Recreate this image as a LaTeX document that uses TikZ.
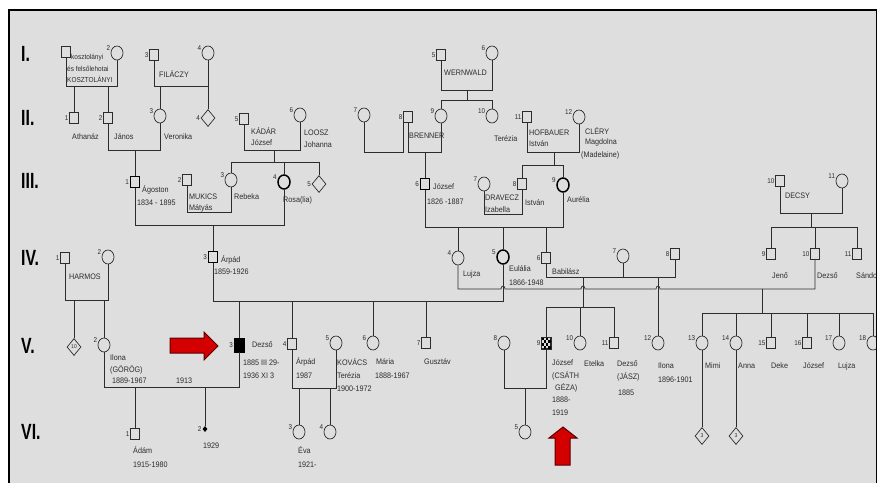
\documentclass[tikz,border=0pt]{standalone}
\usepackage{fontspec}
\setmainfont{Liberation Sans}[FakeStretch=0.9]
\newfontfamily\genfont{Liberation Sans}[FakeStretch=0.72]
\usetikzlibrary{shapes.geometric}
\definecolor{bg}{HTML}{DEDEDE}
\definecolor{ink}{HTML}{2C2C2C}
\definecolor{arrowred}{HTML}{D40000}
\definecolor{arrowdark}{HTML}{5A0000}
\tikzset{
  ln/.style={line width=0.7pt, draw=ink},
  sq/.style={rectangle, draw=ink, line width=0.7pt, minimum width=9pt, minimum height=11pt, inner sep=0pt},
  sqb/.style={sq, line width=1.5pt, draw=black},
  sqf/.style={sq, fill=black, draw=black, minimum width=10pt, minimum height=14pt},
  ci/.style={ellipse, draw=ink, line width=0.7pt, minimum width=12pt, minimum height=14pt, inner sep=0pt},
  cib/.style={ci, line width=1.5pt, draw=black},
  di/.style={diamond, draw=ink, line width=0.7pt, minimum width=14pt, minimum height=17pt, inner sep=0pt, font=\fontsize{5.5}{6}\selectfont, text=ink},
  dif/.style={diamond, fill=black, minimum width=5pt, minimum height=6pt, inner sep=0pt},
  num/.style={font=\fontsize{7}{7}\selectfont, text=ink, inner sep=0.6pt},
  lsq/.style={label={[num]left:#1}},
  lci/.style={label={[num]165:#1}},
  txt/.style={font=\fontsize{8}{8}\selectfont, text=ink, inner sep=0pt, anchor=west},
  txts/.style={txt, font=\fontsize{7.2}{8}\selectfont},
  gen/.style={font=\genfont\bfseries\fontsize{22}{22}\selectfont, text=black, inner sep=0pt, anchor=west},
  redarrow/.style={fill=arrowred, draw=arrowdark, line width=1pt, line join=miter},
}
\begin{document}
\begin{tikzpicture}[x=1pt,y=-1pt]
\useasboundingbox (0,0) rectangle (877,483);
\fill[white] (0,0) rectangle (877,483);
\fill[bg] (9,10) rectangle (877,483);
\begin{scope}
\clip (9,10) rectangle (876,483);
% generation labels
\node[gen] (gI) at (21,54) {I.};
\node[gen] (gII) at (21,118) {II.};
\node[gen] (gIII) at (21,181) {III.};
\node[gen] (gIV) at (21,258) {IV.};
\node[gen] (gV) at (21,346) {V.};
\node[gen] (gVI) at (21,432) {VI.};
% ---------- Generation I
\node[sq] (i1) at (66,52) {};
\node[ci,lci=2] (i2) at (117,53) {};
\node[sq,lsq=3] (i3) at (154,55) {};
\node[ci,lci=4] (i4) at (208,53) {};
\node[sq,lsq=5] (i5) at (441,55) {};
\node[ci,lci=6] (i6) at (492,53) {};
% ---------- Generation II
\node[sq,lsq=1] (ii1) at (74,118) {};
\node[sq,lsq=2] (ii2) at (108,118) {};
\node[ci,lci=3] (ii3) at (160,116) {};
\node[di,label={[num]left:4}] (ii4) at (208,118) {};
\node[sq,lsq=5] (ii5) at (244,119) {};
\node[ci,lci=6] (ii6) at (300,115) {};
\node[ci,lci=7] (ii7) at (364,115) {};
\node[sq,lsq=8] (ii8) at (408,117) {};
\node[ci,lci=9] (ii9) at (441,116) {};
\node[ci,lci=10] (ii10) at (492,116) {};
\node[sq,lsq=11] (ii11) at (527,117) {};
\node[ci,lci=12] (ii12) at (579,117) {};
% ---------- Generation III
\node[sqb,lsq=1] (iii1) at (135,182) {};
\node[sq,lsq=2] (iii2) at (187,180) {};
\node[ci,lci=3] (iii3) at (231,180) {};
\node[cib,lci=4] (iii4) at (284,182) {};
\node[di,label={[num]left:5}] (iii5) at (319,184) {};
\node[sqb,lsq=6] (iii6) at (425,184) {};
\node[ci,lci=7] (iii7) at (484,184) {};
\node[sq,lsq=8] (iii8) at (522,184) {};
\node[cib,lci=9] (iii9) at (563,185) {};
\node[sq,lsq=10] (iii10) at (780,181) {};
\node[ci,lci=11] (iii11) at (842,181) {};
% ---------- Generation IV
\node[sq,lsq=1] (iv1) at (65,258) {};
\node[ci,lci=2] (iv2) at (108,257) {};
\node[sqb,lsq=3] (iv3) at (213,257) {};
\node[ci,lci=4] (iv4) at (458,258) {};
\node[cib,lci=5] (iv5) at (503,257) {};
\node[sq,lsq=6] (iv6) at (546,258) {};
\node[ci,lci=7] (iv7) at (623,256) {};
\node[sq,lsq=8] (iv8) at (675,254) {};
\node[sq,lsq=9] (iv9) at (771,254) {};
\node[sq,lsq=10] (iv10) at (815,254) {};
\node[sq,lsq=11] (iv11) at (857,254) {};
% ---------- Generation V
\node[di] (v1) at (74,347) {10};
\node[ci,lci=2] (v2) at (104,345) {};
\node[sqf,lsq=3] (v3) at (239,345) {};
\node[sq,lsq=4] (v4) at (292,344) {};
\node[ci,lci=5] (v5) at (336,343) {};
\node[ci,lci=6] (v6) at (373,343) {};
\node[sq,lsq=7] (v7) at (426,343) {};
\node[ci,lci=8] (v8) at (504,343) {};
\node[sq,lsq=9] (v9) at (546,343) {};
\foreach \i in {0,...,3}{\foreach \j in {0,...,3}{\pgfmathtruncatemacro\k{mod(\i+\j,2)}\ifnum\k=0 \fill[black] ({541.5+2.25*\i},{337.5+2.75*\j}) rectangle ++(2.25,2.75);\fi}}
\draw[line width=0.7pt, draw=ink] (v9.south west) rectangle (v9.north east);
\node[ci,lci=10] (v10) at (580,343) {};
\node[sq,lsq=11] (v11) at (614,343) {};
\node[ci,lci=12] (v12) at (658,343) {};
\node[ci,lci=13] (v13) at (702,343) {};
\node[ci,lci=14] (v14) at (736,343) {};
\node[sq,lsq=15] (v15) at (771,343) {};
\node[sq,lsq=16] (v16) at (807,343) {};
\node[ci,lci=17] (v17) at (839,343) {};
\node[ci,lci=18] (v18) at (873,343) {};
% ---------- Generation VI
\node[sq,lsq=1] (vi1) at (135,434) {};
\node[dif,label={[num]left:2}] (vi2) at (205,429) {};
\node[ci,lci=3] (vi3) at (299,432) {};
\node[ci,lci=4] (vi4) at (330,432) {};
\node[ci,lci=5] (vi5) at (525,432) {};
\node[di] (vi6) at (702,436) {3};
\node[di] (vi7) at (736,436) {3};
% ---------- texts
\node[txts] (t1) at (71,58) {kosztolányi};
\node[txts] (t2) at (67,69) {és felsőlehotai};
\node[txts] (t3) at (67,79) {KOSZTOLÁNYI};
\node[txt] (t4) at (159,74) {FILÁCZY};
\node[txt] (t5) at (444,73) {WERNWALD};
\node[txt] (t6) at (72,137) {Athanáz};
\node[txt] (t7) at (114,137) {János};
\node[txt] (t8) at (164,137) {Veronika};
\node[txt] (t9) at (251,131) {KÁDÁR};
\node[txt] (t10) at (251,143) {József};
\node[txt] (t11) at (304,133) {LOOSZ};
\node[txt] (t12) at (304,145) {Johanna};
\node[txt] (t13) at (409,136) {BRENNER};
\node[txt] (t14) at (494,139) {Terézia};
\node[txt] (t15) at (529,133) {HOFBAUER};
\node[txt] (t16) at (529,144) {István};
\node[txt] (t17) at (585,131) {CLÉRY};
\node[txt] (t18) at (585,142) {Magdolna};
\node[txt] (t19) at (581,155) {(Madelaine)};
\node[txt] (t20) at (142,190) {Ágoston};
\node[txt] (t21) at (137,203) {1834 - 1895};
\node[txt] (t22) at (189,197) {MUKICS};
\node[txt] (t23) at (189,208) {Mátyás};
\node[txt] (t24) at (234,197) {Rebeka};
\node[txt] (t25) at (283,200) {Rosa(lia)};
\node[txt] (t26) at (433,187) {József};
\node[txt] (t27) at (427,202) {1826 -1887};
\node[txt] (t28) at (485,198) {DRAVECZ};
\node[txt] (t29) at (485,210) {Izabella};
\node[txt] (t30) at (525,203) {István};
\node[txt] (t31) at (567,200) {Aurélia};
\node[txt] (t32) at (785,196) {DECSY};
\node[txt] (t33) at (69,277) {HARMOS};
\node[txt] (t34) at (221,260) {Árpád};
\node[txt] (t35) at (214,272) {1859-1926};
\node[txt] (t36) at (463,274) {Lujza};
\node[txt] (t37) at (509,269) {Eulália};
\node[txt] (t38) at (509,283) {1866-1948};
\node[txt] (t39) at (552,272) {Babilász};
\node[txt] (t40) at (772,276) {Jenő};
\node[txt] (t41) at (817,276) {Dezső};
\node[txt] (t42) at (856,276) {Sándor};
\node[txt] (t43) at (110,358) {Ilona};
\node[txt] (t44) at (110,370) {(GÖRÖG)};
\node[txt] (t45) at (112,381) {1889-1967};
\node[txt] (t46) at (176,381) {1913};
\node[txt] (t47) at (252,345) {Dezső};
\node[txt] (t48) at (243,363) {1885 III 29-};
\node[txt] (t49) at (243,376) {1936 XI 3};
\node[txt] (t50) at (296,362) {Árpád};
\node[txt] (t51) at (296,376) {1987};
\node[txt] (t52) at (337,362) {KOVÁCS};
\node[txt] (t53) at (337,376) {Terézia};
\node[txt] (t54) at (337,389) {1900-1972};
\node[txt] (t55) at (376,362) {Mária};
\node[txt] (t56) at (375,376) {1888-1967};
\node[txt] (t57) at (424,362) {Gusztáv};
\node[txt] (t58) at (552,363) {József};
\node[txt] (t59) at (552,376) {(CSÁTH};
\node[txt] (t60) at (555,388) {GÉZA)};
\node[txt] (t61) at (552,400) {1888-};
\node[txt] (t62) at (552,413) {1919};
\node[txt] (t63) at (584,364) {Etelka};
\node[txt] (t64) at (617,364) {Dezső};
\node[txt] (t65) at (617,377) {(JÁSZ)};
\node[txt] (t66) at (618,393) {1885};
\node[txt] (t67) at (658,366) {Ilona};
\node[txt] (t68) at (658,380) {1896-1901};
\node[txt] (t69) at (705,366) {Mimi};
\node[txt] (t70) at (738,366) {Anna};
\node[txt] (t71) at (771,366) {Deke};
\node[txt] (t72) at (803,366) {József};
\node[txt] (t73) at (838,366) {Lujza};
\node[txt] (t74) at (133,450) {Ádám};
\node[txt] (t75) at (133,465) {1915-1980};
\node[txt] (t76) at (203,446) {1929};
\node[txt] (t77) at (298,450) {Éva};
\node[txt] (t78) at (298,465) {1921-};
% ---------- connectors: generation I
\draw[ln] (i1.south) -- (i1.south |- 0,86) -- (i2.south |- 0,86) -- (i2.south);
\draw[ln] (ii1.north |- 0,86) -- (ii1.north);
\draw[ln] (ii2.north |- 0,86) -- (ii2.north);
\draw[ln] (i3.south) -- (i3.south |- 0,86) -- (i4.south |- 0,86) -- (i4.south);
\draw[ln] (ii3.north |- 0,86) -- (ii3.north);
\draw[ln] (ii4.north |- 0,86) -- (ii4.north);
\draw[ln] (i5.south) -- (i5.south |- 0,90) -- (i6.south |- 0,90) -- (i6.south);
\coordinate (c56) at (467,90);
\draw[ln] (c56) -- (c56 |- 0,100);
\draw[ln] (ii9.north) -- (ii9.north |- 0,100) -- (ii10.north |- 0,100) -- (ii10.north);
% generation II
\draw[ln] (ii2.south) -- (ii2.south |- 0,150) -- (ii3.south |- 0,150) -- (ii3.south);
\draw[ln] (iii1.north |- 0,150) -- (iii1.north);
\draw[ln] (ii5.south) -- (ii5.south |- 0,150) -- (ii6.south |- 0,150) -- (ii6.south);
\coordinate (c256) at (274,150);
\draw[ln] (c256) -- (c256 |- 0,162);
\draw[ln] (iii3.north) -- (iii3.north |- 0,162) -- (iii5.north |- 0,162) -- (iii5.north);
\draw[ln] (iii4.north |- 0,162) -- (iii4.north);
\draw[ln] (ii7.south) -- (ii7.south |- 0,152) -- (ii8.south west |- 0,152) -- (ii8.south west);
\draw[ln] (ii8.south) -- (ii8.south |- 0,152) -- (ii9.south |- 0,152) -- (ii9.south);
\draw[ln] (iii6.north |- 0,152) -- (iii6.north);
\draw[ln] (ii11.south) -- (ii11.south |- 0,152) -- (ii12.south |- 0,152) -- (ii12.south);
\coordinate (c1112) at (554,152);
\draw[ln] (c1112) -- (c1112 |- 0,165);
\draw[ln] (iii8.north) -- (iii8.north |- 0,165) -- (iii9.north |- 0,165) -- (iii9.north);
% generation III
\draw[ln] (iii1.south) -- (iii1.south |- 0,225) -- (iii4.south |- 0,225) -- (iii4.south);
\draw[ln] (iv3.north |- 0,225) -- (iv3.north);
\draw[ln] (iii2.south) -- (iii2.south |- 0,212) -- (iii3.south |- 0,212) -- (iii3.south);
\draw[ln] (iii6.south) -- (iii6.south |- 0,227) -- (iii9.south |- 0,227) -- (iii9.south);
\foreach \c in {iv4,iv5,iv6} \draw[ln] (\c.north |- 0,227) -- (\c.north);
\draw[ln] (iii7.south) -- (iii7.south |- 0,214) -- (iii8.south |- 0,214) -- (iii8.south);
\draw[ln] (iii10.south) -- (iii10.south |- 0,213) -- (iii11.south |- 0,213) -- (iii11.south);
\coordinate (c1011) at (811,213);
\draw[ln] (c1011) -- (c1011 |- 0,227);
\draw[ln] (iv9.north) -- (iv9.north |- 0,227) -- (iv11.north |- 0,227) -- (iv11.north);
\draw[ln] (iv10.north |- 0,227) -- (iv10.north);
% generation IV
\draw[ln] (iv1.south) -- (iv1.south |- 0,300) -- (iv2.south |- 0,300) -- (iv2.south);
\draw[ln] (v1.north |- 0,300) -- (v1.north);
\draw[ln] (v2.north |- 0,300) -- (v2.north);
\draw[ln] (iv3.south) -- (iv3.south |- 0,301) -- (iv5.south |- 0,301) -- (iv5.south);
\foreach \c in {v3,v4,v6,v7} \draw[ln] (\c.north |- 0,301) -- (\c.north);
\draw[ln] (iv6.south) -- (iv6.south |- 0,277) -- (iv8.south |- 0,277) -- (iv8.south);
\draw[ln] (iv7.south) -- (iv7.south |- 0,277);
\coordinate (c67) at (583,277);
\draw[ln] (c67) -- (c67 |- 0,307);
\draw[ln] (v9.north) -- (v9.north |- 0,307) -- (v11.north |- 0,307) -- (v11.north);
\draw[ln] (v10.north |- 0,307) -- (v10.north);
\draw[ln] (v12.north |- 0,277) -- (v12.north);
\draw[ln] (iv4.south) -- (iv4.south |- 0,289) -- (501,289) .. controls (501,285) and (505,285) .. (505,289) -- (581,289) .. controls (581,285) and (585,285) .. (585,289) -- (656,289) .. controls (656,285) and (660,285) .. (660,289) -- (iv10.south |- 0,289) -- (iv10.south);
\coordinate (c410) at (762,289);
\draw[ln] (c410) -- (c410 |- 0,313);
\draw[ln] (v13.north |- 0,313) -- (v18.north |- 0,313);
\foreach \c in {v13,v14,v15,v16,v17,v18} \draw[ln] (\c.north |- 0,313) -- (\c.north);
% generation V
\draw[ln] (v2.south) -- (v2.south |- 0,387) -- (v3.south |- 0,387) -- (v3.south);
\draw[ln] (vi1.north |- 0,387) -- (vi1.north);
\draw[ln] (vi2.north |- 0,387) -- (vi2.north);
\draw[ln] (v4.south) -- (v4.south |- 0,388) -- (v5.south |- 0,388) -- (v5.south);
\draw[ln] (vi3.north |- 0,388) -- (vi3.north);
\draw[ln] (vi4.north |- 0,388) -- (vi4.north);
\draw[ln] (v8.south) -- (v8.south |- 0,388) -- (v9.south |- 0,388) -- (v9.south);
\draw[ln] (vi5.north |- 0,388) -- (vi5.north);
\draw[ln] (v13.south) -- (vi6.north);
\draw[ln] (v14.south) -- (vi7.north);
% red arrows
\draw[redarrow] (170,338) -- (204,338) -- (204,332) -- (218,346) -- (204,360) -- (204,353) -- (170,353) -- cycle;
\draw[redarrow] (555,465) -- (555,438) -- (549,438) -- (563,427) -- (577,438) -- (570,438) -- (570,465) -- cycle;
\end{scope}
% frame
\draw[line width=1.4pt] (9,483) -- (9,10) -- (877,10);
\draw[line width=1pt] (876,10) -- (876,483);
\end{tikzpicture}
\end{document}
